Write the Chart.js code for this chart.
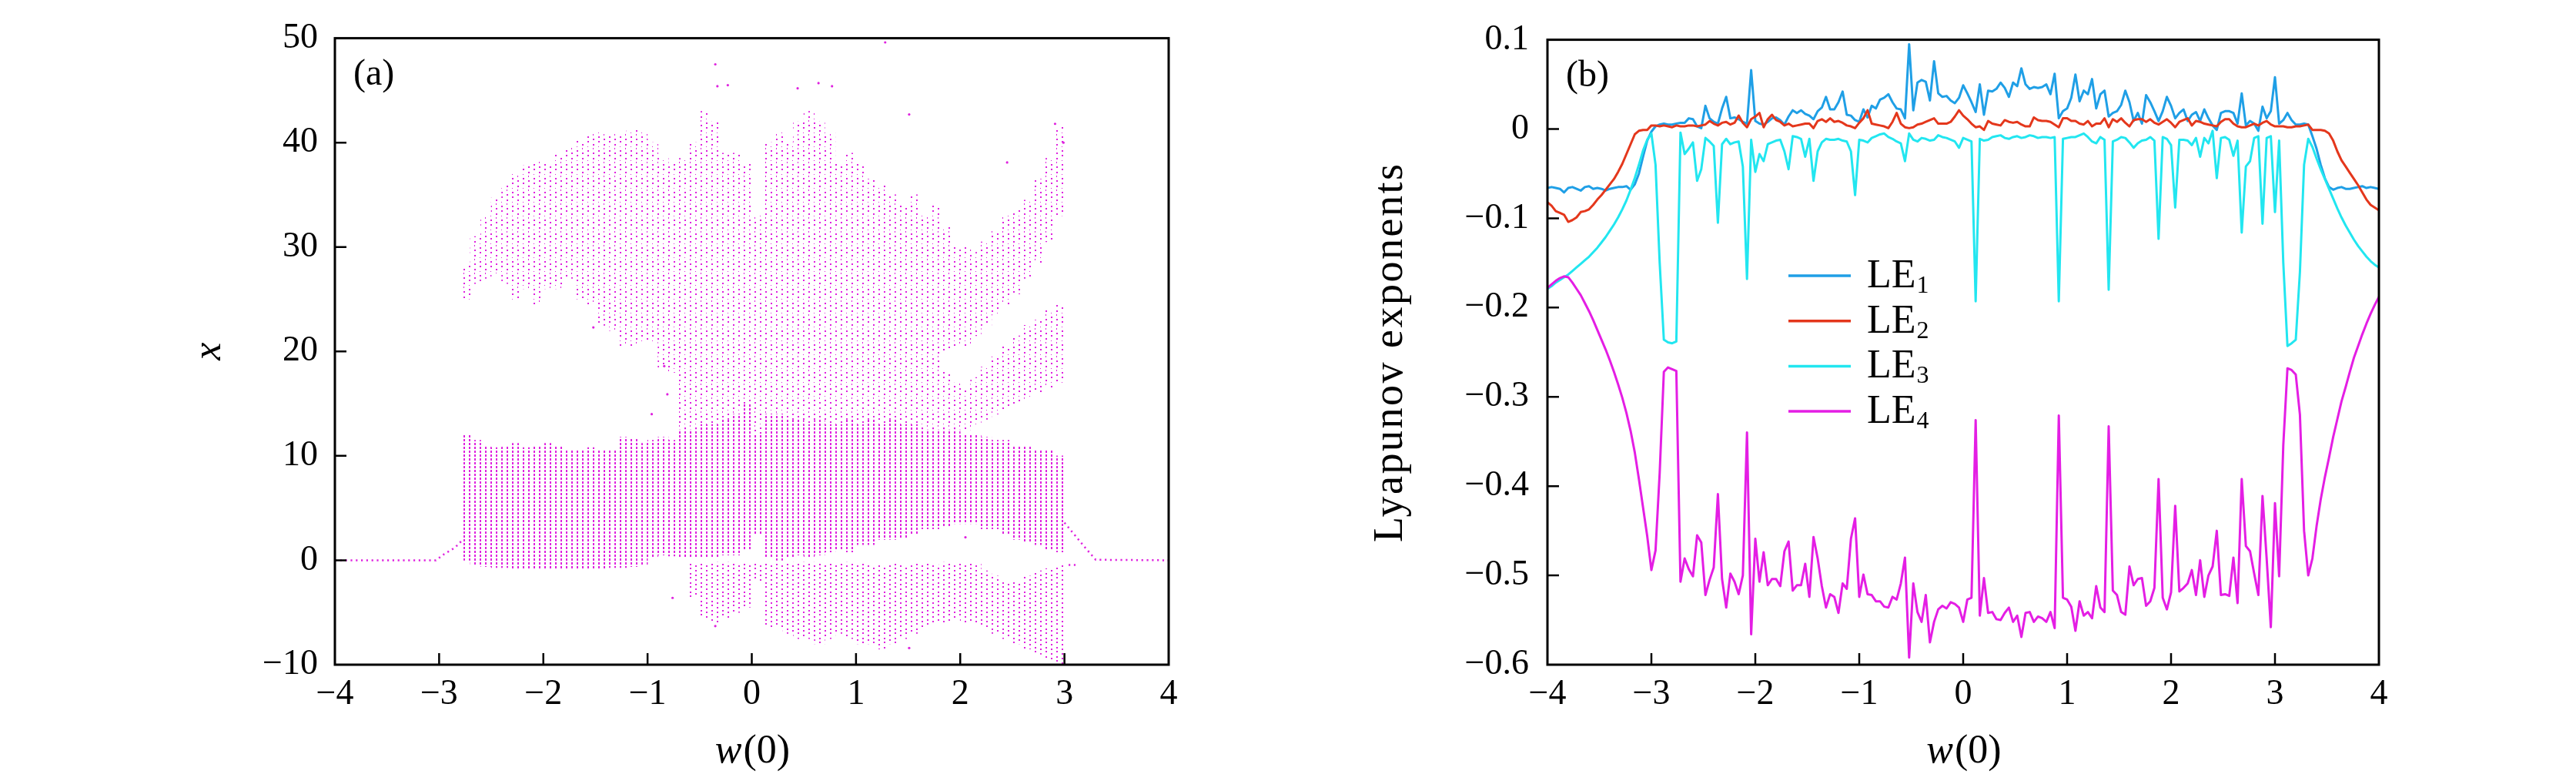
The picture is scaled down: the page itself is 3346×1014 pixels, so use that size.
<!DOCTYPE html>
<html>
<head>
<meta charset="utf-8">
<script src="https://cdn.jsdelivr.net/npm/chart.js@4.4.0/dist/chart.umd.min.js"></script>
<style>
html, body { margin: 0; padding: 0; background: #fff; }
#wrap { position: relative; width: 3346px; height: 1014px; }
.box { position: absolute; top: 0; height: 1014px; }
#box-a { left: 0; width: 1600px; }
#box-b { left: 1600px; width: 1746px; }
</style>
</head>
<body>
<div id="wrap">
  <div class="box" id="box-a"><canvas id="chart-a"></canvas></div>
  <div class="box" id="box-b"><canvas id="chart-b"></canvas></div>
</div>
<script>
// ---------- panel (a): bifurcation bands ----------
const bandW = [-2.75, -2.65, -2.55, -2.45, -2.35, -2.25, -2.15, -2.05, -1.95, -1.85,
    -1.75, -1.65, -1.55, -1.45, -1.35, -1.25, -1.15, -1.05, -0.95, -0.85,
    -0.75, -0.65, -0.55, -0.45, -0.35, -0.25, -0.15, -0.05, 0.05, 0.15,
    0.25, 0.35, 0.45, 0.55, 0.65, 0.75, 0.85, 0.95, 1.05, 1.15,
    1.25, 1.35, 1.45, 1.55, 1.65, 1.75, 1.85, 1.95, 2.05, 2.15,
    2.25, 2.35, 2.45, 2.55, 2.65, 2.75, 2.85, 2.95];
const lowLo = [0.0, -0.5, -0.6, -0.7, -0.7, -0.8, -0.8, -0.8, -0.8, -0.8,
    -0.8, -0.8, -0.8, -0.8, -0.7, -0.7, -0.6, -0.5, 0.3, 0.5,
    0.4, 0.3, 0.2, 0.2, 0.3, 0.5, 0.5, 1.0, 2.5, 0.2,
    0.0, 0.2, 0.5, 0.3, 0.5, 0.8, 1.0, 0.8, 1.5, 1.5,
    2.0, 2.0, 2.2, 2.5, 3.0, 3.0, 3.3, 3.5, 3.5, 3.5,
    3.0, 3.0, 2.5, 2.0, 1.8, 1.5, 1.0, 0.8];
const lowHi = [12.0, 11.5, 11.0, 10.8, 11.0, 11.2, 10.8, 11.0, 11.2, 11.0,
    10.5, 10.6, 10.8, 10.5, 10.6, 11.8, 11.6, 11.2, 11.5, 11.8,
    11.5, 12.5, 12.5, 13.0, 13.0, 13.5, 14.0, 15.0, 12.0, 14.0,
    14.0, 13.5, 13.5, 13.0, 13.5, 13.0, 13.0, 13.5, 13.0, 13.5,
    13.0, 13.5, 13.0, 13.0, 12.5, 12.5, 12.5, 12.5, 12.0, 12.0,
    11.8, 11.5, 11.5, 11.0, 11.0, 10.5, 10.5, 10.0];
const highLo = [25.0, 26.5, 27.0, 27.5, 26.5, 25.0, 26.0, 24.5, 26.0, 26.0,
    27.0, 25.0, 24.5, 22.5, 22.0, 20.5, 20.5, 21.0, 21.0, 18.5,
    18.0, 12.5, 12.5, 13.0, 13.0, 13.5, 14.0, 15.0, 12.0, 16.0,
    16.0, 17.0, 17.0, 17.0, 17.0, 17.0, 17.5, 17.5, 18.0, 18.0,
    18.5, 18.5, 18.5, 19.0, 19.5, 19.5, 20.0, 20.5, 20.5, 21.5,
    22.5, 23.5, 24.5, 25.5, 27.0, 28.5, 30.5, 33.0];
const highHi = [28.2, 31.0, 33.0, 34.7, 36.0, 37.0, 37.8, 38.2, 38.0, 38.8,
    39.5, 40.2, 40.8, 41.0, 40.8, 40.8, 41.2, 41.0, 40.0, 38.5,
    38.0, 38.5, 40.0, 43.0, 42.0, 39.0, 39.0, 38.0, 33.0, 40.0,
    41.0, 40.0, 42.0, 43.0, 42.0, 41.0, 38.0, 39.0, 38.0, 36.5,
    36.0, 35.0, 34.0, 35.0, 33.0, 34.0, 32.0, 30.0, 30.0, 29.5,
    30.5, 31.5, 33.0, 33.5, 34.5, 36.5, 38.5, 41.5];
const midW = [0.15, 0.25, 0.35, 0.45, 0.55, 0.65, 0.75, 0.85, 0.95, 1.05,
    1.15, 1.25, 1.35, 1.45, 1.55, 1.65, 1.75, 1.85, 1.95, 2.05,
    2.15, 2.25, 2.35, 2.45, 2.55, 2.65, 2.75, 2.85, 2.95];
const midLo = [14.0, 14.0, 13.5, 13.5, 13.0, 13.5, 13.0, 13.0, 13.5, 13.0,
    13.5, 13.0, 13.5, 13.0, 13.0, 12.5, 12.5, 12.5, 12.5, 12.5,
    13.0, 13.5, 14.0, 14.5, 15.0, 15.5, 16.0, 16.5, 17.0];
const midHi = [16.0, 16.0, 17.0, 17.0, 17.0, 17.0, 17.0, 17.5, 17.5, 18.0,
    18.0, 18.5, 18.5, 18.5, 19.0, 19.5, 19.5, 18.0, 17.0, 16.5,
    17.5, 18.5, 19.5, 20.5, 21.5, 22.5, 23.0, 24.0, 24.5];
const negW = [-0.55, -0.45, -0.35, -0.25, -0.15, -0.05, 0.05, 0.15, 0.25, 0.35,
    0.45, 0.55, 0.65, 0.75, 0.85, 0.95, 1.05, 1.15, 1.25, 1.35,
    1.45, 1.55, 1.65, 1.75, 1.85, 1.95, 2.05, 2.15, 2.25, 2.35,
    2.45, 2.55, 2.65, 2.75, 2.85, 2.95];
const negLo = [-3.5, -5.5, -6.0, -5.5, -5.0, -4.5, -2.0, -6.5, -6.5, -7.0,
    -7.5, -7.5, -8.0, -7.5, -7.0, -7.5, -8.0, -8.0, -8.5, -8.0,
    -7.5, -7.0, -6.5, -6.0, -6.0, -5.5, -6.0, -6.0, -6.5, -7.0,
    -7.5, -8.0, -8.5, -9.0, -9.5, -10.0];
const negHi = [-0.3, -0.3, -0.2, -0.2, -0.3, -0.3, -0.3, -0.3, -0.3, -0.3,
    -0.2, -0.2, -0.3, -0.3, -0.3, -0.2, -0.3, -0.5, -0.5, -0.3,
    -0.5, -0.3, -0.3, -0.5, -0.2, -0.3, -0.3, -0.3, -1.0, -1.5,
    -2.0, -2.0, -1.5, -1.0, -0.8, -0.5];
// fixed point branches
const fixLeftW = [-4, -3.03, -2.95, -2.85, -2.78];
const fixLeftX = [0, 0, 0.6, 1.2, 1.9];
const fixRightW = [3.0, 3.1, 3.2, 3.3, 4];
const fixRightX = [3.6, 2.4, 1.2, 0.05, 0];
const fixNegW = [3.04, 3.12];
const fixNegX = [-0.45, -0.45];
// isolated points
const strayW = [-0.35, -0.33, -0.23, 0.44, 0.64, 0.77, 1.28, 1.51, 2.91, 2.99, 2.45, -1.52, -0.84, -0.76, -0.35, 1.51, 2.05, -0.81, -0.96];
const strayX = [47.5, 45.4, 45.5, 45.2, 45.7, 45.4, 49.6, 42.7, 41.8, 40.0, 38.1, 22.3, 18.6, -3.6, -6.3, -8.4, 2.2, 15.9, 14.0];

// ---------- panel (b): Lyapunov exponents ----------
const wGrid = Array.from({length: 201}, (_, i) => Math.round((-4 + 0.04 * i) * 100) / 100);
const seriesNames = ['LE1', 'LE2', 'LE3', 'LE4'];
const le1 = [-0.066, -0.065, -0.066, -0.067, -0.071, -0.066, -0.065, -0.067, -0.069, -0.065,
    -0.064, -0.067, -0.066, -0.067, -0.069, -0.067, -0.066, -0.065, -0.065, -0.064,
    -0.068, -0.062, -0.050, -0.031, -0.013, -0.003, 0.003, 0.005, 0.006, 0.005,
    0.005, 0.006, 0.007, 0.007, 0.012, 0.011, 0.003, 0.001, 0.026, 0.012,
    0.008, 0.006, 0.023, 0.036, 0.012, 0.013, 0.011, 0.008, 0.006, 0.066,
    0.009, 0.006, 0.005, 0.008, 0.012, 0.013, 0.010, 0.005, 0.014, 0.021,
    0.018, 0.021, 0.017, 0.015, 0.011, 0.020, 0.024, 0.036, 0.022, 0.022,
    0.030, 0.042, 0.016, 0.015, 0.010, 0.008, 0.022, 0.013, 0.026, 0.023,
    0.033, 0.035, 0.039, 0.030, 0.023, 0.022, 0.012, 0.095, 0.021, 0.052,
    0.055, 0.053, 0.032, 0.076, 0.040, 0.036, 0.037, 0.032, 0.029, 0.035,
    0.049, 0.040, 0.030, 0.019, 0.050, 0.016, 0.043, 0.042, 0.045, 0.052,
    0.046, 0.036, 0.052, 0.048, 0.068, 0.050, 0.045, 0.047, 0.046, 0.047,
    0.050, 0.039, 0.062, 0.012, 0.020, 0.023, 0.035, 0.061, 0.031, 0.043,
    0.039, 0.056, 0.023, 0.039, 0.043, 0.014, 0.018, 0.020, 0.027, 0.043,
    0.030, 0.009, 0.018, 0.006, 0.038, 0.030, 0.020, 0.009, 0.020, 0.036,
    0.026, 0.012, 0.018, 0.022, 0.009, 0.016, 0.019, 0.009, 0.022, 0.012,
    0.004, -0.001, 0.018, 0.020, 0.020, 0.018, 0.006, 0.040, 0.004, 0.009,
    0.006, -0.002, 0.025, 0.012, 0.020, 0.058, 0.006, 0.010, 0.018, 0.010,
    0.005, 0.005, 0.006, 0.005, -0.008, -0.022, -0.040, -0.055, -0.065, -0.068,
    -0.066, -0.065, -0.067, -0.067, -0.066, -0.065, -0.064, -0.066, -0.065, -0.066,
    -0.067];
const le2 = [-0.082, -0.086, -0.092, -0.094, -0.096, -0.104, -0.102, -0.099, -0.093, -0.092,
    -0.090, -0.085, -0.079, -0.074, -0.068, -0.062, -0.056, -0.048, -0.039, -0.028,
    -0.017, -0.006, -0.002, -0.001, -0.001, 0.004, 0.004, 0.003, 0.004, 0.003,
    0.002, 0.004, 0.003, 0.003, 0.004, 0.004, 0.003, 0.004, 0.005, 0.009,
    0.006, 0.004, 0.007, 0.008, 0.005, 0.007, 0.015, 0.007, 0.002, 0.011,
    0.014, 0.018, 0.002, 0.011, 0.016, 0.010, 0.008, 0.004, 0.006, 0.003,
    0.004, 0.005, 0.006, 0.006, 0.001, 0.009, 0.011, 0.008, 0.012, 0.008,
    0.009, 0.007, 0.004, 0.003, 0.001, 0.007, 0.012, 0.021, 0.006, 0.005,
    0.004, 0.003, 0.001, 0.008, 0.018, 0.006, 0.002, 0.001, 0.002, 0.005,
    0.006, 0.008, 0.010, 0.012, 0.006, 0.006, 0.006, 0.008, 0.014, 0.021,
    0.015, 0.011, 0.006, 0.002, 0.003, -0.001, 0.009, 0.006, 0.005, 0.004,
    0.010, 0.008, 0.007, 0.008, 0.005, 0.003, 0.003, 0.013, 0.010, 0.009,
    0.009, 0.008, 0.005, 0.002, 0.012, 0.012, 0.009, 0.009, 0.006, 0.005,
    0.009, 0.003, 0.006, 0.006, 0.012, 0.002, 0.011, 0.008, 0.012, 0.007,
    0.003, 0.010, 0.011, 0.011, 0.008, 0.011, 0.007, 0.005, 0.008, 0.011,
    0.007, 0.002, 0.008, 0.010, 0.012, 0.004, 0.009, 0.008, 0.006, 0.005,
    0.004, 0.003, 0.008, 0.011, 0.011, 0.006, 0.003, 0.002, 0.002, 0.004,
    0.006, 0.004, 0.007, 0.009, 0.005, 0.003, 0.003, 0.003, 0.002, 0.002,
    0.003, 0.003, 0.004, 0.005, -0.001, -0.001, -0.001, -0.002, -0.005, -0.013,
    -0.025, -0.035, -0.042, -0.049, -0.056, -0.063, -0.071, -0.079, -0.085, -0.088,
    -0.091];
const le3 = [-0.179, -0.176, -0.172, -0.169, -0.166, -0.163, -0.159, -0.155, -0.151, -0.147,
    -0.143, -0.138, -0.133, -0.127, -0.121, -0.114, -0.107, -0.099, -0.090, -0.080,
    -0.068, -0.055, -0.040, -0.024, -0.012, -0.005, -0.040, -0.150, -0.236, -0.239,
    -0.240, -0.238, -0.004, -0.028, -0.022, -0.015, -0.058, -0.045, -0.010, -0.014,
    -0.019, -0.105, -0.017, -0.011, -0.017, -0.015, -0.014, -0.042, -0.168, -0.012,
    -0.048, -0.028, -0.036, -0.017, -0.015, -0.013, -0.012, -0.025, -0.045, -0.008,
    -0.009, -0.011, -0.031, -0.011, -0.058, -0.025, -0.015, -0.011, -0.012, -0.012,
    -0.011, -0.013, -0.014, -0.025, -0.074, -0.012, -0.013, -0.015, -0.010, -0.008,
    -0.006, -0.005, -0.009, -0.011, -0.014, -0.016, -0.036, -0.005, -0.012, -0.014,
    -0.010, -0.011, -0.013, -0.012, -0.007, -0.009, -0.010, -0.012, -0.014, -0.021,
    -0.010, -0.012, -0.014, -0.193, -0.011, -0.013, -0.012, -0.009, -0.008, -0.007,
    -0.010, -0.011, -0.009, -0.008, -0.010, -0.009, -0.007, -0.008, -0.010, -0.009,
    -0.009, -0.010, -0.009, -0.193, -0.011, -0.010, -0.009, -0.009, -0.007, -0.005,
    -0.009, -0.014, -0.016, -0.009, -0.012, -0.180, -0.014, -0.012, -0.009, -0.010,
    -0.015, -0.021, -0.016, -0.013, -0.012, -0.009, -0.013, -0.123, -0.009, -0.011,
    -0.018, -0.088, -0.012, -0.012, -0.013, -0.018, -0.010, -0.031, -0.010, -0.016,
    -0.002, -0.055, -0.010, -0.009, -0.012, -0.030, -0.013, -0.116, -0.042, -0.036,
    -0.010, -0.008, -0.106, -0.010, -0.008, -0.093, -0.013, -0.150, -0.243, -0.240,
    -0.236, -0.160, -0.040, -0.011, -0.020, -0.033, -0.045, -0.056, -0.067, -0.078,
    -0.089, -0.099, -0.108, -0.116, -0.124, -0.131, -0.137, -0.143, -0.148, -0.152,
    -0.155];
const le4 = [-0.178, -0.174, -0.170, -0.167, -0.165, -0.166, -0.172, -0.179, -0.186, -0.195,
    -0.204, -0.214, -0.225, -0.236, -0.247, -0.259, -0.272, -0.286, -0.301, -0.318,
    -0.338, -0.362, -0.392, -0.424, -0.456, -0.494, -0.472, -0.385, -0.272, -0.267,
    -0.269, -0.271, -0.507, -0.481, -0.493, -0.501, -0.455, -0.463, -0.522, -0.505,
    -0.491, -0.409, -0.504, -0.536, -0.498, -0.507, -0.521, -0.500, -0.340, -0.566,
    -0.459, -0.507, -0.474, -0.511, -0.504, -0.504, -0.512, -0.473, -0.462, -0.517,
    -0.511, -0.511, -0.487, -0.524, -0.457, -0.481, -0.512, -0.536, -0.521, -0.524,
    -0.542, -0.509, -0.515, -0.459, -0.436, -0.524, -0.499, -0.521, -0.522, -0.529,
    -0.529, -0.535, -0.536, -0.524, -0.527, -0.509, -0.480, -0.592, -0.509, -0.541,
    -0.552, -0.522, -0.575, -0.552, -0.538, -0.534, -0.537, -0.530, -0.532, -0.536,
    -0.552, -0.527, -0.525, -0.326, -0.545, -0.503, -0.542, -0.541, -0.549, -0.550,
    -0.542, -0.536, -0.552, -0.545, -0.569, -0.542, -0.541, -0.552, -0.546, -0.548,
    -0.552, -0.541, -0.559, -0.321, -0.525, -0.527, -0.535, -0.562, -0.529, -0.545,
    -0.541, -0.548, -0.512, -0.536, -0.541, -0.333, -0.517, -0.522, -0.541, -0.544,
    -0.490, -0.511, -0.504, -0.503, -0.534, -0.529, -0.514, -0.392, -0.525, -0.538,
    -0.519, -0.422, -0.518, -0.514, -0.509, -0.494, -0.522, -0.483, -0.524, -0.500,
    -0.490, -0.450, -0.522, -0.521, -0.523, -0.480, -0.531, -0.392, -0.467, -0.473,
    -0.498, -0.522, -0.411, -0.481, -0.558, -0.419, -0.501, -0.354, -0.268, -0.270,
    -0.275, -0.320, -0.450, -0.500, -0.481, -0.445, -0.415, -0.390, -0.368, -0.345,
    -0.325, -0.305, -0.289, -0.272, -0.256, -0.243, -0.230, -0.218, -0.207, -0.197,
    -0.188];

const MAGENTA = '#df22df';
const lineColors = ['#1f9fe6', '#e4371c', '#22e6f0', '#e41ee4'];
const SERIF = '"Liberation Serif"';
const tickFont = {family: SERIF, size: 46};

function fmtInt(v) {
    return (v < 0 ? '\u2212' : '') + Math.abs(v);
}

function fmtDec(v) {
    const r = Math.round(v * 10) / 10;
    if (r === 0) return '0';
    return (r < 0 ? '\u2212' : '') + Math.abs(r).toFixed(1);
}

function pairs(xs, ys) {
    return xs.map((x, i) => ({x: x, y: ys[i]}));
}

function bands(xs, lo, hi) {
    return xs.map((x, i) => ({x: x, y: [lo[i], hi[i]]}));
}

// dotted column texture, so the bands look like stacks of sampled points
function dotPattern(ctx, w, h, dots) {
    const tile = document.createElement('canvas');
    tile.width = w;
    tile.height = h;
    const g = tile.getContext('2d');
    g.fillStyle = MAGENTA;
    dots.forEach(d => g.fillRect(d[0], d[1], d[2], d[3]));
    return ctx.createPattern(tile, 'repeat');
}

// frame, inward ticks, axis titles, panel tag and legend
const decor = {
    id: 'decor',
    afterDraw(chart, args, o) {
        const {ctx, chartArea: a} = chart;
        const sx = chart.scales.x, sy = chart.scales.y;
        ctx.save();
        ctx.strokeStyle = '#000';
        ctx.lineWidth = 2.5;
        ctx.beginPath();
        sx.ticks.forEach(t => {
            if (t.value <= sx.min + 1e-9 || t.value >= sx.max - 1e-9) return;
            const p = sx.getPixelForValue(t.value);
            ctx.moveTo(p, a.bottom);
            ctx.lineTo(p, a.bottom - 15);
        });
        sy.ticks.forEach(t => {
            if (t.value <= sy.min + 1e-9 || t.value >= sy.max - 1e-9) return;
            const p = sy.getPixelForValue(t.value);
            ctx.moveTo(a.left, p);
            ctx.lineTo(a.left + 15, p);
        });
        ctx.stroke();
        ctx.lineWidth = 3;
        ctx.strokeRect(a.left, a.top, a.right - a.left, a.bottom - a.top);

        ctx.fillStyle = '#000';
        ctx.textBaseline = 'alphabetic';
        ctx.textAlign = 'left';
        ctx.font = '48px ' + SERIF;
        ctx.fillText(o.tag, a.left + 24, a.top + 60);

        // x title: italic w, roman (0)
        const itF = 'italic 52px ' + SERIF, rmF = '52px ' + SERIF;
        ctx.font = itF;
        const w1 = ctx.measureText('w').width;
        ctx.font = rmF;
        const w2 = ctx.measureText('(0)').width;
        const tx = (a.left + a.right) / 2 - (w1 + w2) / 2;
        ctx.font = itF;
        ctx.fillText('w', tx, 990);
        ctx.font = rmF;
        ctx.fillText('(0)', tx + w1 + 2, 990);

        // y title
        ctx.save();
        ctx.translate(o.yTitleX, (a.top + a.bottom) / 2);
        ctx.rotate(-Math.PI / 2);
        ctx.textAlign = 'center';
        ctx.font = o.yTitleFont;
        if (o.yTitleLen) {
            const tw = ctx.measureText(o.yTitle).width;
            const sp = Math.max(0, (o.yTitleLen - tw) / (o.yTitle.length - 1));
            ctx.letterSpacing = sp.toFixed(2) + 'px';
        }
        ctx.fillText(o.yTitle, 0, 0);
        ctx.restore();

        if (o.legend) {
            const L = o.legend;
            chart.data.datasets.forEach((ds, i) => {
                const y = L.y0 + i * L.dy;
                ctx.strokeStyle = ds.borderColor;
                ctx.lineWidth = 3.5;
                ctx.beginPath();
                ctx.moveTo(L.x0, y);
                ctx.lineTo(L.x1, y);
                ctx.stroke();
                ctx.fillStyle = '#000';
                ctx.font = '52px ' + SERIF;
                ctx.fillText(ds.label.slice(0, 2), L.tx, y + 15);
                const lw = ctx.measureText(ds.label.slice(0, 2)).width;
                ctx.font = '32px ' + SERIF;
                ctx.fillText(ds.label.slice(2), L.tx + lw + 1, y + 22);
            });
        }
        ctx.restore();
    }
};

function axes(yOpts, yWidth) {
    return {
        x: {
            type: 'linear', min: -4, max: 4, offset: false,
            grid: {display: false, drawTicks: false},
            border: {display: false},
            ticks: {stepSize: 1, padding: 11, autoSkip: false, maxRotation: 0,
                color: '#000', font: tickFont, callback: fmtInt},
            afterFit: s => { s.height = 151; }
        },
        y: Object.assign({
            type: 'linear',
            grid: {display: false, drawTicks: false},
            border: {display: false},
            afterFit: s => { s.width = yWidth; }
        }, yOpts)
    };
}

// ---------- chart (a) ----------
const canvasA = document.getElementById('chart-a');
const ctxA = canvasA.getContext('2d');
const densePat = dotPattern(ctxA, 7, 5, [[0, 0, 2, 3]]);
const sparsePat = dotPattern(ctxA, 14, 18, [[0, 0, 2, 2], [0, 7, 2, 2], [0, 12, 1, 2],
    [7, 3, 2, 2], [7, 10, 1, 1], [7, 15, 2, 2]]);
const negPat = dotPattern(ctxA, 14, 12, [[0, 0, 2, 2], [0, 5, 2, 2], [7, 2, 2, 2], [7, 8, 2, 2]]);

const barStyle = {grouped: false, barPercentage: 1, categoryPercentage: 1, borderWidth: 0};

new Chart(canvasA, {
    type: 'bar',
    data: {
        datasets: [
            Object.assign({label: 'low', data: bands(bandW, lowLo, lowHi), backgroundColor: densePat}, barStyle),
            Object.assign({label: 'high', data: bands(bandW, highLo, highHi), backgroundColor: sparsePat}, barStyle),
            Object.assign({label: 'mid', data: bands(midW, midLo, midHi), backgroundColor: sparsePat}, barStyle),
            Object.assign({label: 'neg', data: bands(negW, negLo, negHi), backgroundColor: negPat}, barStyle),
            {type: 'line', label: 'fixL', data: pairs(fixLeftW, fixLeftX), borderColor: MAGENTA,
                borderWidth: 2.5, borderDash: [2.2, 4.6], pointRadius: 0, fill: false},
            {type: 'line', label: 'fixR', data: pairs(fixRightW, fixRightX), borderColor: MAGENTA,
                borderWidth: 2.5, borderDash: [2.2, 4.6], pointRadius: 0, fill: false},
            {type: 'line', label: 'fixN', data: pairs(fixNegW, fixNegX), borderColor: MAGENTA,
                borderWidth: 2.5, borderDash: [2.2, 4.6], pointRadius: 0, fill: false},
            {type: 'scatter', label: 'stray', data: pairs(strayW, strayX), backgroundColor: MAGENTA,
                pointRadius: 1.6, borderWidth: 0}
        ]
    },
    options: {
        responsive: true,
        maintainAspectRatio: false,
        animation: false,
        devicePixelRatio: 1,
        events: [],
        layout: {padding: {top: 37, right: 82, left: 0, bottom: 0}},
        plugins: {
            legend: {display: false},
            tooltip: {enabled: false},
            decor: {tag: '(a)', yTitle: 'x', yTitleX: 286, yTitleFont: 'italic 52px ' + SERIF}
        },
        scales: axes({min: -10, max: 50, ticks: {stepSize: 10, padding: 22, autoSkip: false,
            color: '#000', font: tickFont, callback: fmtInt}}, 435)
    },
    plugins: [decor]
});

// ---------- chart (b) ----------
const lineSets = [le1, le2, le3, le4].map((vals, i) => ({
    label: seriesNames[i],
    data: pairs(wGrid, vals),
    borderColor: lineColors[i],
    backgroundColor: lineColors[i],
    borderWidth: 3,
    borderJoinStyle: 'round',
    pointRadius: 0,
    fill: false,
    tension: 0,
    order: 4 - i
}));

new Chart(document.getElementById('chart-b'), {
    type: 'line',
    data: {datasets: lineSets},
    options: {
        responsive: true,
        maintainAspectRatio: false,
        animation: false,
        devicePixelRatio: 1,
        events: [],
        layout: {padding: {top: 37, right: 256, left: 0, bottom: 0}},
        plugins: {
            legend: {display: false},
            tooltip: {enabled: false},
            decor: {
                tag: '(b)', yTitle: 'Lyapunov exponents', yTitleX: 221,
                yTitleFont: '54px ' + SERIF, yTitleLen: 491,
                legend: {x0: 723, x1: 804, tx: 825, y0: 358, dy: 58.7}
            }
        },
        scales: axes({min: -0.6, max: 0.1, ticks: {stepSize: 0.1, padding: 24, autoSkip: false,
            color: '#000', font: tickFont, callback: fmtDec}}, 410)
    },
    plugins: [decor]
});
</script>
</body>
</html>
